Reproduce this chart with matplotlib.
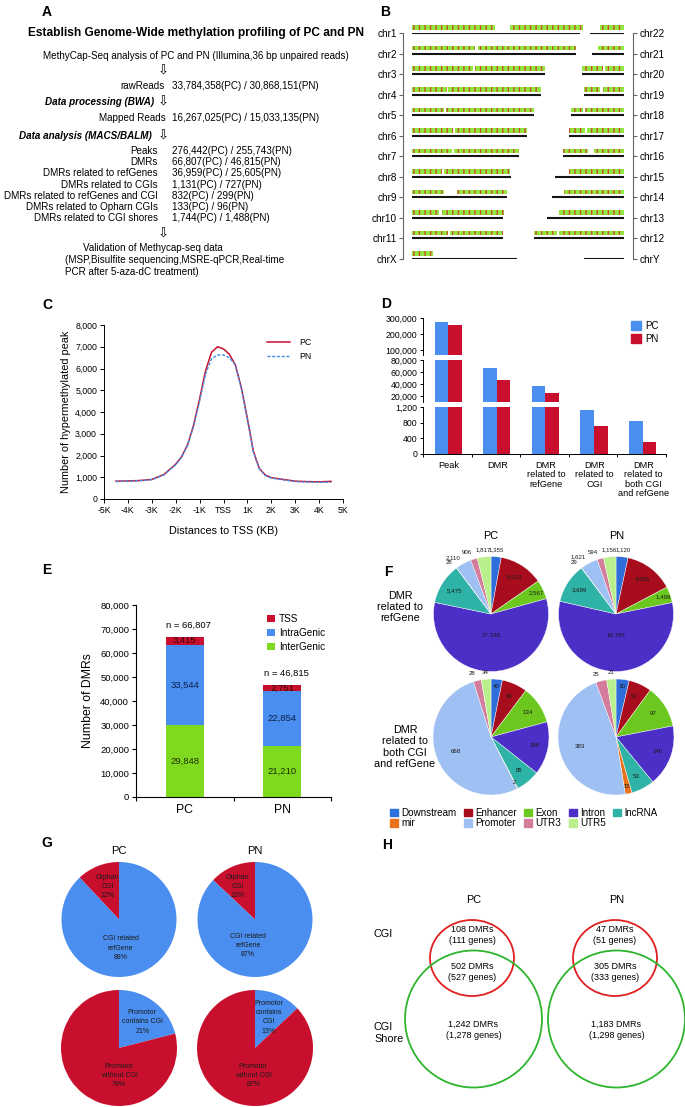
import numpy as np
import matplotlib
matplotlib.use('Agg')
import matplotlib.pyplot as plt
from matplotlib.patches import Ellipse, Patch
from matplotlib.ticker import FuncFormatter

plt.rcParams['font.family'] = ['Liberation Sans', 'DejaVu Sans']
plt.rcParams['hatch.linewidth'] = 1.0

############################################
#####            DATA                 ######
############################################
# A: pipeline summary
flow_steps = ['rawReads', 'Mapped Reads']
flow_counts = ['33,784,358(PC) / 30,868,151(PN)', '16,267,025(PC) / 15,033,135(PN)']
result_labels = ['Peaks', 'DMRs', 'DMRs related to refGenes', 'DMRs related to CGIs',
                 'DMRs related to refGenes and CGI', 'DMRs related to Opharn CGIs',
                 'DMRs related to CGI shores']
result_counts = ['276,442(PC) / 255,743(PN)', '66,807(PC) / 46,815(PN)', '36,959(PC) / 25,605(PN)',
                 '1,131(PC) / 727(PN)', '832(PC) / 299(PN)', '133(PC) / 96(PN)', '1,744(PC) / 1,488(PN)']

# B: chromosome lengths (Mb) and covered track segments (Mb)
chrom_left = ['chr1', 'chr2', 'chr3', 'chr4', 'chr5', 'chr6', 'chr7', 'chr8', 'chr9', 'chr10', 'chr11', 'chrX']
chrom_right = ['chr22', 'chr21', 'chr20', 'chr19', 'chr18', 'chr17', 'chr16', 'chr15', 'chr14', 'chr13', 'chr12', 'chrY']
len_left = [249.3, 243.2, 198.0, 191.2, 180.9, 171.1, 159.1, 146.4, 141.2, 135.5, 135.0, 155.3]
len_right = [51.3, 48.1, 63.0, 59.1, 78.1, 81.2, 90.4, 102.5, 107.3, 115.2, 133.9, 59.4]
track_left = [[(0, 124), (146, 254)], [(0, 93), (98, 243)], [(0, 91), (94, 198)], [(0, 52), (54, 191)],
              [(0, 47), (51, 181)], [(0, 61), (64, 171)], [(0, 59), (63, 159)], [(0, 45), (48, 146)],
              [(0, 48), (67, 141)], [(0, 40), (45, 136)], [(0, 53), (57, 135)], [(0, 31)]]
track_right = [[(15, 51)], [(10, 48)], [(0, 32), (35, 63)], [(0, 24), (28, 59)], [(0, 17), (20, 78)],
               [(0, 23), (26, 81)], [(0, 37), (46, 90)], [(20, 102)], [(18, 107)], [(19, 115)],
               [(0, 34), (37, 134)], []]

# C: hypermethylated peaks around TSS
tss_dist = [-4.5, -4, -3.5, -3, -2.5, -2, -1.75, -1.5, -1.25, -1, -0.75, -0.5, -0.25, 0,
            0.25, 0.5, 0.75, 1, 1.25, 1.5, 1.75, 2, 2.5, 3, 3.5, 4, 4.5]
peaks_pc = [820, 830, 850, 900, 1120, 1600, 1950, 2500, 3400, 4600, 5900, 6750, 7000, 6900,
            6650, 6150, 5100, 3700, 2200, 1400, 1100, 980, 900, 820, 800, 790, 810]
peaks_pn = [800, 820, 840, 890, 1100, 1580, 1930, 2480, 3350, 4500, 5750, 6450, 6620, 6620,
            6500, 6150, 5050, 3650, 2150, 1380, 1080, 960, 880, 800, 780, 770, 770]

# D: counts per category
d_categories = ['Peak', 'DMR', 'DMR\nrelated to\nrefGene', 'DMR\nrelated to\nCGI',
                'DMR\nrelated to\nboth CGI\nand refGene']
d_pc = [276442, 66807, 36959, 1131, 832]
d_pn = [255743, 46815, 25605, 727, 299]

# E: DMR location
e_groups = ['PC', 'PN']
e_inter = [29848, 21210]
e_intra = [33544, 22854]
e_tss = [3415, 2751]

# F: DMR annotation
f_features = ['Downstream', 'Enhancer', 'Exon', 'Intron', 'lncRNA', 'mir', 'Promoter', 'UTR3', 'UTR5']
f_ref_pc = [1355, 5913, 2567, 27338, 5475, 28, 2110, 906, 1817]
f_ref_pn = [1120, 4605, 1499, 18795, 3699, 29, 1621, 594, 1156]
f_cgi_pc = [40, 90, 134, 188, 85, 2, 668, 28, 34]
f_cgi_pn = [30, 52, 97, 140, 53, 15, 383, 25, 21]

# G: CGI pies (%)
g_top_labels = ['Orphan\nCGI', 'CGI related\nrefGene']
g_top_pc = [12, 88]
g_top_pn = [13, 87]
g_bot_labels_pc = ['Promotor\ncontains CGI', 'Promotor\nwithout CGI']
g_bot_labels_pn = ['Promotor\ncontains\nCGI', 'Promotor\nwithout CGI']
g_bot_pc = [21, 79]
g_bot_pn = [13, 87]

# H: CGI / CGI shore overlap
h_cgi_dmrs = [108, 47]
h_cgi_genes = [111, 51]
h_both_dmrs = [502, 305]
h_both_genes = [527, 333]
h_shore_dmrs = [1242, 1183]
h_shore_genes = [1278, 1298]

############################################
#####            LAYOUT               ######
############################################
W, H = 685, 1107
fig = plt.figure(figsize=(6.85, 11.07), dpi=100)

BLUE = '#4a8ff0'
RED = '#c8102e'
GREEN = '#7fd91f'


def ax_px(x0, y0, x1, y1):
    return fig.add_axes([x0 / W, 1 - y1 / H, (x1 - x0) / W, (y1 - y0) / H])


comma = FuncFormatter(lambda v, p: '{:,.0f}'.format(v))

over = fig.add_axes([0, 0, 1, 1])
over.set_xlim(0, W)
over.set_ylim(H, 0)
over.axis('off')

for letter, (x, y) in zip('ABCDEFGH', [(47, 12), (385, 12), (47, 305), (386, 304),
                                       (47, 570), (388, 572), (47, 843), (387, 845)]):
    over.text(x, y, letter, fontsize=10, fontweight='bold', ha='center', va='center')

############################################
#####       A: PIPELINE TEXT          ######
############################################
fs = 7.1
arrow_kw = dict(fontsize=9.5, ha='center', va='center', family='DejaVu Sans')
over.text(196, 33, 'Establish Genome-Wide methylation profiling of PC and PN', fontsize=8.6,
          fontweight='bold', ha='center', va='center')
over.text(196, 56, 'MethyCap-Seq analysis of PC and PN (Illumina,36 bp unpaired reads)',
          fontsize=fs, ha='center', va='center')
over.text(163, 71, '\u21e9', **arrow_kw)
for y, lab, val, xr in zip([86, 118], flow_steps, flow_counts, [165, 166]):
    over.text(xr, y, lab, fontsize=fs, ha='right', va='center')
    over.text(172, y, val, fontsize=fs, ha='left', va='center')
over.text(154, 102, 'Data processing (BWA)', fontsize=fs, fontweight='bold', style='italic',
          ha='right', va='center')
over.text(163, 102, '\u21e9', **arrow_kw)
over.text(152, 136, 'Data analysis (MACS/BALM)', fontsize=fs, fontweight='bold', style='italic',
          ha='right', va='center')
over.text(163, 136, '\u21e9', **arrow_kw)
for i, (lab, val) in enumerate(zip(result_labels, result_counts)):
    y = 151 + i * 11.2
    over.text(158, y, lab, fontsize=fs, ha='right', va='center')
    over.text(172, y, val, fontsize=fs, ha='left', va='center')
over.text(163, 234, '\u21e9', **arrow_kw)
over.text(83, 248, 'Validation of Methycap-seq data', fontsize=fs, ha='left', va='center')
over.text(65, 260, '(MSP,Bisulfite sequencing,MSRE-qPCR,Real-time', fontsize=fs, ha='left', va='center')
over.text(65, 272, 'PCR after 5-aza-dC treatment)', fontsize=fs, ha='left', va='center')

############################################
#####       B: CHROMOSOMES            ######
############################################
axb = ax_px(403, 33, 633, 259)
right_end = 315
axb.set_xlim(-13.4, 328.3)
axb.set_ylim(len(chrom_left) - 1, 0)
rows = np.arange(len(chrom_left))
for i in rows:
    axb.plot([0, len_left[i]], [i, i], color='#151515', lw=1.5, solid_capstyle='butt')
    start = right_end - len_right[i]
    axb.plot([start, right_end], [i, i], color='#151515', lw=1.5, solid_capstyle='butt')
    segs = [(s, e - s) for s, e in track_left[i]] + [(start + s, e - s) for s, e in track_right[i]]
    if segs:
        axb.broken_barh(segs, (i - 0.37, 0.22), facecolors='#92e83c', edgecolor='#c4502c',
                        linewidth=0, hatch='|||', clip_on=False)
for s in ['top', 'bottom']:
    axb.spines[s].set_visible(False)
for s in ['left', 'right']:
    axb.spines[s].set_color('#666666')
    axb.spines[s].set_linewidth(0.8)
axb.set_xticks([])
axb.set_yticks(rows)
axb.set_yticklabels(chrom_left, fontsize=7.2)
axb.tick_params(axis='y', length=3, width=0.8, color='#666666', pad=1.5)
axb2 = axb.twinx()
axb2.set_ylim(len(chrom_left) - 1, 0)
axb2.set_yticks(rows)
axb2.set_yticklabels(chrom_right, fontsize=7.2)
axb2.tick_params(axis='y', length=3, width=0.8, color='#666666', pad=1.5)
for s in ['top', 'bottom', 'left', 'right']:
    axb2.spines[s].set_visible(False)

############################################
#####       C: PROFILE AROUND TSS     ######
############################################
axc = ax_px(104, 325, 343, 499)
axc.plot(tss_dist, peaks_pc, color=RED, lw=1.1, label='PC')
axc.plot(tss_dist, peaks_pn, color='#3f8fe8', lw=1.0, ls=(0, (2.2, 1.2)), label='PN')
axc.set_xlim(-5, 5)
axc.set_ylim(0, 8000)
axc.set_xticks(range(-5, 6))
axc.set_xticklabels(['-5K', '-4K', '-3K', '-2K', '-1K', 'TSS', '1K', '2K', '3K', '4K', '5K'])
axc.set_yticks(range(0, 8001, 1000))
axc.yaxis.set_major_formatter(comma)
axc.tick_params(labelsize=6.3, length=3, width=0.7, pad=2)
for s in ['top', 'right']:
    axc.spines[s].set_visible(False)
for s in ['left', 'bottom']:
    axc.spines[s].set_linewidth(0.7)
axc.set_ylabel('Number of hypermethylated peak', fontsize=7.8, labelpad=3)
axc.set_xlabel('Distances to TSS (KB)', fontsize=7.8, labelpad=8)
axc.legend(loc='upper right', bbox_to_anchor=(0.9, 0.97), frameon=False, fontsize=6.3,
           handlelength=2.6, handletextpad=1.0, labelspacing=0.6)

############################################
#####       D: BROKEN BAR CHART       ######
############################################
xd = np.arange(len(d_categories)) + 0.52
d_axes = [ax_px(423, 318, 666, 355), ax_px(423, 360, 666, 402), ax_px(423, 407, 666, 454)]
d_lims = [(68000, 300000), (10000, 80000), (0, 1200)]
d_ticks = [[100000, 200000, 300000], [20000, 40000, 60000, 80000], [0, 400, 800, 1200]]
for ax, lim, tk in zip(d_axes, d_lims, d_ticks):
    ax.bar(xd - 0.14, d_pc, width=0.28, color=BLUE)
    ax.bar(xd + 0.14, d_pn, width=0.28, color=RED)
    ax.set_xlim(0, len(d_categories))
    ax.set_ylim(*lim)
    ax.set_yticks(tk)
    ax.yaxis.set_major_formatter(comma)
    ax.tick_params(axis='y', labelsize=6.3, length=2.5, width=0.7, pad=1.5)
    for s in ['top', 'right', 'bottom']:
        ax.spines[s].set_visible(False)
    ax.spines['left'].set_linewidth(0.7)
    ax.set_xticks([])
axd = d_axes[2]
axd.spines['bottom'].set_visible(True)
axd.spines['bottom'].set_linewidth(0.7)
axd.set_xticks(range(len(d_categories) + 1))
axd.set_xticklabels([])
axd.set_xticks(np.arange(len(d_categories)) + 0.53, minor=True)
axd.set_xticklabels(d_categories, minor=True, fontsize=6.6, linespacing=1.05)
axd.tick_params(axis='x', which='major', length=2.5, width=0.7)
axd.tick_params(axis='x', which='minor', length=0, pad=5)
fig.legend(handles=[Patch(color=BLUE, label='PC'), Patch(color=RED, label='PN')],
           loc='upper left', bbox_to_anchor=(626 / W, 1 - 316 / H), frameon=False, fontsize=7,
           handlelength=1.0, handleheight=1.0, handletextpad=0.5, labelspacing=0.3, borderpad=0)

############################################
#####       E: STACKED BARS           ######
############################################
axe = ax_px(136, 605, 331, 797)
xe = np.arange(len(e_groups)) + 0.5
bw = 0.39
axe.bar(xe, e_inter, width=bw, color=GREEN, label='InterGenic')
axe.bar(xe, e_intra, width=bw, bottom=e_inter, color=BLUE, label='IntraGenic')
base2 = np.array(e_inter) + np.array(e_intra)
axe.bar(xe, e_tss, width=bw, bottom=base2, color=RED, label='TSS')
for i in range(len(e_groups)):
    axe.text(xe[i], e_inter[i] / 2, '{:,}'.format(e_inter[i]), ha='center', va='center',
             fontsize=6.8, color='#1c3300')
    axe.text(xe[i], e_inter[i] + e_intra[i] / 2, '{:,}'.format(e_intra[i]), ha='center',
             va='center', fontsize=6.8, color='#0c1f4a')
    axe.text(xe[i], base2[i] + e_tss[i] / 2, '{:,}'.format(e_tss[i]), ha='center', va='center',
             fontsize=6.8, color='#3a0008')
    total = base2[i] + e_tss[i]
    axe.text(xe[i] + 0.04, total + 3000, 'n = {:,}'.format(total), ha='center', va='bottom',
             fontsize=6.8)
axe.set_xlim(0, 2)
axe.set_ylim(0, 80000)
axe.set_yticks(range(0, 80001, 10000))
axe.yaxis.set_major_formatter(comma)
axe.set_xticks([0, 1, 2])
axe.set_xticklabels([])
axe.set_xticks(xe, minor=True)
axe.set_xticklabels(e_groups, minor=True, fontsize=8.8)
axe.tick_params(axis='x', which='minor', length=0, pad=5)
axe.tick_params(axis='x', which='major', length=3, width=0.8)
axe.tick_params(axis='y', labelsize=6.8, length=3, width=0.8, pad=2)
for s in ['top', 'right']:
    axe.spines[s].set_visible(False)
for s in ['left', 'bottom']:
    axe.spines[s].set_linewidth(0.8)
axe.set_ylabel('Number of DMRs', fontsize=8.8, labelpad=4)
h, l = axe.get_legend_handles_labels()
axe.legend(h[::-1], l[::-1], loc='upper left', bbox_to_anchor=(262 / W, 1 - 609 / H),
           bbox_transform=fig.transFigure, frameon=False, fontsize=7.2, handlelength=0.8,
           handleheight=0.8, handletextpad=0.4, labelspacing=0.4, borderpad=0)

############################################
#####       F: ANNOTATION PIES        ######
############################################
f_colors = ['#2f6fdc', '#a80d1e', '#6cc81e', '#4b2fc6', '#2fb3a6', '#e8731c', '#9ec0f2',
            '#d37c9c', '#b9f08d']


def feature_pie(cx, cy, r, vals, outside, big_r):
    ax = ax_px(cx - r, cy - r, cx + r, cy + r)
    wedges, _ = ax.pie(vals, colors=f_colors, startangle=90, counterclock=False, radius=1,
                       wedgeprops=dict(linewidth=0.3, edgecolor='white'))
    ax.set_xlim(-1, 1)
    ax.set_ylim(-1, 1)
    total = float(sum(vals))
    big = int(np.argmax(vals))
    for k, (w, v) in enumerate(zip(wedges, vals)):
        ang = np.deg2rad((w.theta1 + w.theta2) / 2)
        frac = v / total
        if f_features[k] in outside:
            rr = 1.12
        elif k == big:
            rr = big_r
        elif frac < 0.06:
            rr = 0.88
        else:
            rr = 0.76
        x, y = rr * np.cos(ang), rr * np.sin(ang)
        ha = 'center'
        if rr > 1:
            ha = 'right' if x < -0.2 else ('left' if x > 0.2 else 'center')
        ax.text(x, y, '{:,}'.format(v), ha=ha, va='center', fontsize=4.4, color='#1a1a1a',
                clip_on=False)
    return wedges


out_top = {'Downstream', 'mir', 'Promoter', 'UTR3', 'UTR5'}
out_bot = {'UTR3', 'UTR5'}
feature_pie(491, 614, 57.5, f_ref_pc, out_top, 0.37)
feature_pie(616, 614, 57.5, f_ref_pn, out_top, 0.37)
feature_pie(491, 737, 58, f_cgi_pc, out_bot, 0.65)
feature_pie(616, 737, 58, f_cgi_pn, out_bot, 0.65)
over.text(491, 536, 'PC', fontsize=7.8, ha='center', va='center')
over.text(617, 536, 'PN', fontsize=7.8, ha='center', va='center')
over.text(400, 607, 'DMR\nrelated to\nrefGene', fontsize=7.8, ha='center', va='center',
          linespacing=1.15)
over.text(405, 747, 'DMR\nrelated to\nboth CGI\nand refGene', fontsize=7.8, ha='center',
          va='center', linespacing=1.15)
order = [0, 5, 1, 6, 2, 7, 3, 8, 4]
fig.legend([Patch(color=f_colors[k]) for k in order], [f_features[k] for k in order],
           ncol=5, loc='upper left', bbox_to_anchor=(385 / W, 1 - 803 / H), frameon=False,
           fontsize=7.1, handlelength=0.8, handleheight=0.8, handletextpad=0.35,
           columnspacing=0.75, labelspacing=0.05, borderpad=0)

############################################
#####       G: CGI PIES               ######
############################################


def cgi_pie(cx, cy, r, vals, labels, counterclock, pos):
    ax = ax_px(cx - r, cy - r, cx + r, cy + r)
    ax.pie(vals, colors=[RED, BLUE] if counterclock else [BLUE, RED], startangle=90,
           counterclock=counterclock, radius=1, wedgeprops=dict(linewidth=0))
    ax.set_xlim(-1, 1)
    ax.set_ylim(-1, 1)
    for v, lab, (x, y) in zip(vals, labels, pos):
        ax.text(x, y, '%s\n%d%%' % (lab, v), ha='center', va='center', fontsize=5,
                color='#1a1a1a', linespacing=1.45)


cgi_pie(119, 919.5, 57.5, g_top_pc, g_top_labels, True, [(-0.2, 0.57), (0.03, -0.5)])
cgi_pie(255, 919.5, 57.5, g_top_pn, g_top_labels, True, [(-0.3, 0.57), (-0.12, -0.45)])
cgi_pie(119, 1048, 58, g_bot_pc, g_bot_labels_pc, False, [(0.4, 0.45), (0.0, -0.47)])
cgi_pie(255, 1048, 58, g_bot_pn, g_bot_labels_pn, False, [(0.24, 0.53), (-0.03, -0.47)])
over.text(119, 851, 'PC', fontsize=8, ha='center', va='center')
over.text(255, 851, 'PN', fontsize=8, ha='center', va='center')

############################################
#####       H: VENN                   ######
############################################
for j, (cx, hdr) in enumerate(zip([472, 615], ['PC', 'PN'])):
    over.add_patch(Ellipse((cx, 958), 84, 76, fill=False, edgecolor='#e02020', lw=1.3))
    over.add_patch(Ellipse((cx + 1.5, 1019), 137, 137, fill=False, edgecolor='#2db52d', lw=1.3))
    over.text(cx + 2, 900, hdr, fontsize=7.8, ha='center', va='center')
    over.text(cx, 935, '{:,} DMRs\n({:,} genes)'.format(h_cgi_dmrs[j], h_cgi_genes[j]),
              fontsize=6.5, ha='center', va='center', linespacing=1.3)
    over.text(cx, 972, '{:,} DMRs\n({:,} genes)'.format(h_both_dmrs[j], h_both_genes[j]),
              fontsize=6.5, ha='center', va='center', linespacing=1.3)
    over.text(cx + 1.5, 1030, '{:,} DMRs\n({:,} genes)'.format(h_shore_dmrs[j], h_shore_genes[j]),
              fontsize=6.5, ha='center', va='center', linespacing=1.3)
over.text(374, 934, 'CGI', fontsize=7.8, ha='left', va='center')
over.text(374, 1033, 'CGI\nShore', fontsize=7.8, ha='left', va='center', linespacing=1.2)

fig.savefig('out.png', dpi=100)
